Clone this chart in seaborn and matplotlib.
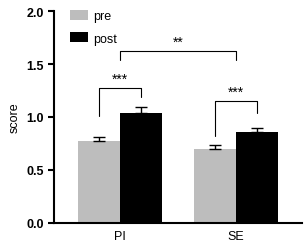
import numpy as np
import pandas as pd
import matplotlib
matplotlib.use("Agg")
import matplotlib.pyplot as plt
import seaborn as sns

groups = ["PI", "SE"]
pre_mean = [0.77, 0.70]
pre_err = [0.04, 0.04]
post_mean = [1.04, 0.86]
post_err = [0.05, 0.04]

df = pd.DataFrame({
    "group": groups * 2,
    "time": ["pre"] * 2 + ["post"] * 2,
    "score": pre_mean + post_mean,
    "err": pre_err + post_err,
})

sns.set_style("ticks")
plt.rcParams['font.family'] = ['Liberation Sans', 'DejaVu Sans']
for k in ["text.color", "axes.labelcolor", "xtick.color", "ytick.color", "axes.edgecolor"]:
    plt.rcParams[k] = "black"

fig = plt.figure(figsize=(3.04, 2.51), dpi=100)
ax = fig.add_axes([0.178, 0.108, 0.815, 0.844])

sns.barplot(data=df, x="group", y="score", hue="time", order=groups,
            hue_order=["pre", "post"], palette={"pre": "#bdbdbd", "post": "black"},
            width=0.72, errorbar=None, ax=ax, linewidth=0, saturation=1)

# error bars, upward only
for cont, (m, e) in zip(ax.containers, [(pre_mean, pre_err), (post_mean, post_err)]):
    xs = [p.get_x() + p.get_width() / 2 for p in cont.patches]
    ax.errorbar(xs, m, yerr=[np.zeros(len(e)), e], fmt="none", ecolor="black",
                elinewidth=1, capsize=4.5, capthick=1)

pc = [p.get_x() + p.get_width() / 2 for p in ax.containers[0].patches]
qc = [p.get_x() + p.get_width() / 2 for p in ax.containers[1].patches]

def bracket(x1, x2, y, y1, y2, text):
    ax.plot([x1, x1, x2, x2], [y1, y, y, y2], color="black", lw=0.8)
    ax.text((x1 + x2) / 2, y + 0.02, text, ha="center", va="bottom", fontsize=10)

bracket(pc[0], qc[0], 1.27, 1.01, 1.19, "***")
bracket(pc[1], qc[1], 1.15, 0.82, 1.04, "***")
bracket(0.0, 1.0, 1.62, 1.54, 1.54, "**")

ax.set_ylim(0, 2.0)
ax.set_xlim(-0.57, 1.57)
ax.set_yticks([0, 0.5, 1.0, 1.5, 2.0])
ax.set_yticklabels(["0.0", "0.5", "1.0", "1.5", "2.0"], fontweight="bold", fontsize=9)
ax.tick_params(axis="x", labelsize=9, length=0, pad=5)
ax.tick_params(axis="y", width=1.5, length=4)
ax.set_xlabel("")
ax.set_ylabel("score", fontsize=9)
for s in ["left", "bottom"]:
    ax.spines[s].set_linewidth(1.5)
sns.despine(ax=ax)

leg = ax.legend(loc="upper left", bbox_to_anchor=(0.02, 1.06), frameon=False,
                fontsize=9, handlelength=1.4, handleheight=0.9, labelspacing=0.8,
                handletextpad=0.4)

fig.savefig("out.png", dpi=100)
